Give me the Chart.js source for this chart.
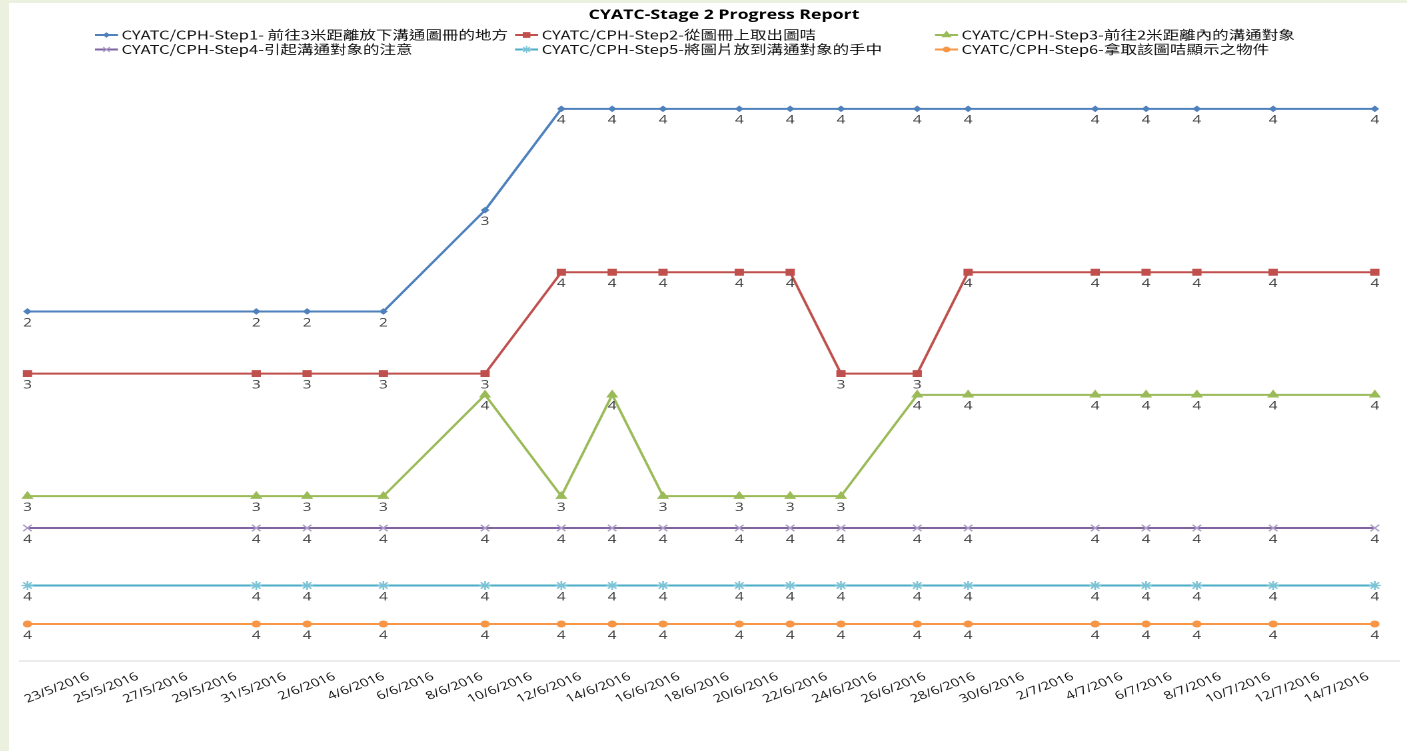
<!DOCTYPE html>
<html><head><meta charset="utf-8">
<script src="https://cdn.jsdelivr.net/npm/chart.js@4"></script>
<style>
html,body{margin:0;padding:0;width:1407px;height:751px;overflow:hidden;background:#ebf1de;}
#card{position:absolute;left:9px;top:3px;width:1398px;height:748px;background:#fff;overflow:hidden;}
#wrap{position:absolute;left:0;top:0;width:1049px;height:748px;transform:scaleX(1.3327);transform-origin:0 0;}
</style></head><body>
<div id="card"><div id="wrap"><canvas id="c"></canvas></div></div>
<script>
// ---- data ----
const dates = ['21/5/2016','30/5/2016','1/6/2016','4/6/2016','8/6/2016','11/6/2016','13/6/2016','15/6/2016','18/6/2016','20/6/2016','22/6/2016','25/6/2016','27/6/2016','2/7/2016','4/7/2016','6/7/2016','9/7/2016','13/7/2016'];
const step1 = [2,2,2,2,3,4,4,4,4,4,4,4,4,4,4,4,4,4];
const step2 = [3,3,3,3,3,4,4,4,4,4,3,3,4,4,4,4,4,4];
const step3 = [3,3,3,3,4,3,4,3,3,3,3,4,4,4,4,4,4,4];
const step4 = [4,4,4,4,4,4,4,4,4,4,4,4,4,4,4,4,4,4];
const step5 = [4,4,4,4,4,4,4,4,4,4,4,4,4,4,4,4,4,4];
const step6 = [4,4,4,4,4,4,4,4,4,4,4,4,4,4,4,4,4,4];
const tickLabels = ['23/5/2016','25/5/2016','27/5/2016','29/5/2016','31/5/2016','2/6/2016','4/6/2016','6/6/2016','8/6/2016','10/6/2016','12/6/2016','14/6/2016','16/6/2016','18/6/2016','20/6/2016','22/6/2016','24/6/2016','26/6/2016','28/6/2016','30/6/2016','2/7/2016','4/7/2016','6/7/2016','8/7/2016','10/7/2016','12/7/2016','14/7/2016'];
const seriesNames = [
  'CYATC/CPH-Step1- 前往3米距離放下溝通圖冊的地方',
  'CYATC/CPH-Step2-從圖冊上取出圖咭',
  'CYATC/CPH-Step3-前往2米距離內的溝通對象',
  'CYATC/CPH-Step4-引起溝通對象的注意',
  'CYATC/CPH-Step5-將圖片放到溝通對象的手中',
  'CYATC/CPH-Step6-拿取該圖咭顯示之物件'
];
const titleText = 'CYATC-Stage 2 Progress Report';

// ---- styling / layout ----
const lineColors  = ['#4f81bd','#c0504d','#9bbb59','#8064a2','#4bacc6','#f79646'];
const pointColors = ['#4f81bd','#c0504d','#9bbb59','#ad9cc6','#7cc3d6','#f79646'];
const pointStyles = ['rectRot','rect','triangle','crossRot','star','circle'];
const pointRadii  = [2.6,4.2,4.3,4.5,4.5,3];
const axisMins    = [-1.450,0.163,1.373,2.687,3.255,3.635]; // per-series band baselines
const SPAN = 5.903;

function dayNum(s){const [d,m,y]=s.split('/').map(Number);return Date.UTC(y,m-1,d)/86400000;}
const xs = dates.map(dayNum);
const seriesList = [step1,step2,step3,step4,step5,step6];

const datasets = seriesList.map((vals,i)=>({
  label: seriesNames[i],
  data: vals.map((v,j)=>({x: xs[j], y: v})),
  yAxisID: 'y'+i,
  borderColor: lineColors[i],
  backgroundColor: lineColors[i],
  borderWidth: 2,
  pointStyle: pointStyles[i],
  pointRadius: pointRadii[i],
  pointBackgroundColor: pointColors[i],
  pointBorderColor: pointColors[i],
  pointBorderWidth: (i===3||i===4)?1.3:1,
  tension: 0,
  clip: false
}));

const scales = {
  x: {type:'linear', display:false, min: xs[0]-0.307, max: xs[0]+53.961},
  x2: {
    type:'linear', position:'bottom', min:-1.397, max:26.634,
    grid:{display:false, drawTicks:false},
    border:{display:true, color:'#d9d9d9', width:1},
    afterBuildTicks(axis){ axis.ticks = tickLabels.map((_,i)=>({value:i})); },
    afterFit(axis){ axis.height = 90; },
    ticks:{autoSkip:false, minRotation:27, maxRotation:27, padding:9, color:'#111',
      font:{family:'"Open Sans"', size:11.2},
      callback:(v)=> tickLabels[v] ?? ''}
  }
};
seriesList.forEach((_,i)=>{ scales['y'+i] = {type:'linear', display:false, min:axisMins[i], max:axisMins[i]+SPAN}; });

const valueLabels = {
  id:'valueLabels',
  afterDatasetsDraw(chart){
    const ctx = chart.ctx; ctx.save();
    ctx.font = '11.5px "Open Sans"'; ctx.fillStyle = '#404040';
    ctx.textAlign = 'center'; ctx.textBaseline = 'middle';
    chart.data.datasets.forEach((ds,i)=>{
      chart.getDatasetMeta(i).data.forEach((pt,j)=>{ ctx.fillText(String(ds.data[j].y), pt.x, pt.y + 11.5); });
    });
    ctx.restore();
  }
};

const gridLegend = {
  id:'gridLegend',
  afterLayout(chart, args, opts){
    const t = chart.titleBlock;
    if (t && opts.titleCenter != null) {
      const shift = opts.titleCenter - (t.left + t.right) / 2;
      t.left += shift; t.right += shift;
    }
  },
  afterDraw(chart, args, opts){
    const ctx = chart.ctx; ctx.save();
    chart.data.datasets.forEach((ds,i)=>{
      const x = opts.columns[i%3], y = opts.rows[Math.floor(i/3)];
      ctx.strokeStyle = ds.borderColor; ctx.lineWidth = 2;
      ctx.beginPath(); ctx.moveTo(x,y); ctx.lineTo(x+opts.lineLength,y); ctx.stroke();
      ctx.fillStyle = ds.pointBackgroundColor; ctx.strokeStyle = ds.pointBorderColor; ctx.lineWidth = 1;
      Chart.helpers.drawPoint(ctx, {pointStyle: ds.pointStyle, radius: ds.pointRadius*0.8, rotation:0, borderWidth:1}, x+opts.lineLength/2, y);
      ctx.font = opts.font; ctx.fillStyle = '#111'; ctx.textAlign='left'; ctx.textBaseline='middle';
      ctx.fillText(ds.label, x+opts.textGap, y);
    });
    ctx.restore();
  }
};

new Chart(document.getElementById('c'), {
  type:'line',
  data:{datasets},
  options:{
    responsive:true, maintainAspectRatio:false, animation:false, devicePixelRatio:2,
    layout:{padding:{left:8, right:1.5, top:0, bottom:0}},
    scales,
    plugins:{
      legend:{display:false},
      tooltip:{enabled:false},
      title:{display:true, text:titleText, color:'#000',
        font:{family:'"Open Sans"', size:13.3, weight:'bold'}, padding:{top:4, bottom:40}},
      gridLegend:{columns:[64.5,379.7,694.8], rows:[32,46.5], lineLength:17.3, textGap:20,
        font:'12.4px "Noto Sans CJK TC"', titleCenter:536.5}
    }
  },
  plugins:[valueLabels, gridLegend]
});
</script>
</body></html>
